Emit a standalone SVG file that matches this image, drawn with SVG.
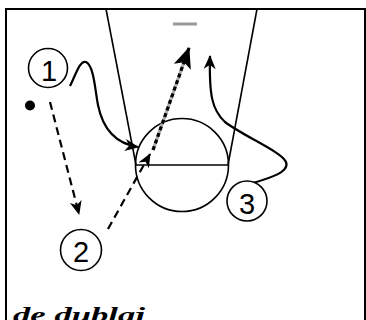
<svg xmlns="http://www.w3.org/2000/svg" width="366" height="320" viewBox="0 0 366 320">
<style>
.ln{fill:none;stroke:#000;stroke-width:1.6}
.pl{fill:#fff;stroke:#000;stroke-width:1.6}
.num{font-family:"Liberation Sans",Arial,sans-serif;font-size:29px;text-anchor:middle;fill:#000}
.cut{fill:none;stroke:#000;stroke-width:2.2}
.dash{fill:none;stroke:#000;stroke-width:2.2;stroke-dasharray:8 5}
</style>
<defs>
<marker id="ah" markerUnits="userSpaceOnUse" markerWidth="16" markerHeight="14" refX="13" refY="6" orient="auto" viewBox="0 0 16 12">
<path d="M0,0 L14,6 L0,12 L4,6 z" fill="#000"/>
</marker>
<marker id="ahBig" markerUnits="userSpaceOnUse" markerWidth="22" markerHeight="20" refX="20" refY="9" orient="auto" viewBox="0 0 22 18">
<path d="M0,0 L21,9 L0,18 L5,9 z" fill="#000"/>
</marker>
</defs>
<rect width="366" height="320" fill="#fff"/>
<g id="court">
<rect x="6" y="9" width="359" height="340" fill="none" stroke="#000" stroke-width="2"/>
<line class="ln" x1="106" y1="9" x2="136" y2="165"/>
<line class="ln" x1="257" y1="9" x2="228" y2="165"/>
<line class="ln" x1="136" y1="165" x2="228" y2="165"/>
<circle class="ln" cx="182" cy="165" r="46.5"/>
<line x1="173" y1="24" x2="197" y2="24" stroke="#999" stroke-width="3"/>
</g>
<g id="connectors">
<path class="dash" d="M50,102 L79,214" marker-end="url(#ah)"/>
<path class="dash" d="M108,229 L150,154" marker-end="url(#ah)"/>
<path d="M153,150 L189,48" fill="none" stroke="#aaa" stroke-width="3.2"/>
<path d="M153,150 L189,48" fill="none" stroke="#000" stroke-width="3.2" stroke-dasharray="4 3" marker-end="url(#ahBig)"/>
<path class="cut" d="M70,86 C76,74 80,60 86,62 C94,66 95,90 98,105 C102,125 112,143 138,147" marker-end="url(#ah)"/>
<path class="cut" d="M253,183 C270,178 290,172 286,162 C282,152 245,137 225,122 C212,110 209,95 210,56" marker-end="url(#ah)"/>
</g>
<g id="ball"><circle cx="30" cy="105.5" r="5" fill="#000"/></g>
<g id="player1"><circle class="pl" cx="48" cy="68" r="19.5"/><text class="num" x="49" y="81">1</text></g>
<g id="player2"><circle class="pl" cx="81" cy="250" r="20.5"/><text class="num" x="81" y="262">2</text></g>
<g id="player3"><circle class="pl" cx="247" cy="201" r="20"/><text class="num" x="247" y="214">3</text></g>
<g id="caption"><text x="13" y="322" font-family="'Liberation Serif','Times New Roman',serif" font-weight="bold" font-style="italic" font-size="22" textLength="132" lengthAdjust="spacingAndGlyphs">de dublaj</text></g>
</svg>
